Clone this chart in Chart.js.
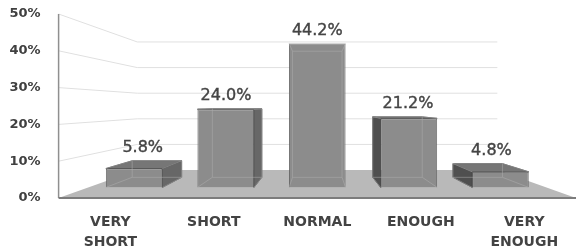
<!DOCTYPE html>
<html lang="en">
<head>
<meta charset="UTF-8">
<title>Sleep duration</title>
<script src="https://cdn.jsdelivr.net/npm/chart.js"></script>
<style>
  html, body { margin: 0; padding: 0; background: #fff; }
  #wrap { width: 576px; height: 252px; }
</style>
</head>
<body>
<div id="wrap"><canvas id="myChart"></canvas></div>
<script>
// data
const categories = [['VERY', 'SHORT'], 'SHORT', 'NORMAL', 'ENOUGH', ['VERY', 'ENOUGH']];
const shares = [5.8, 24.0, 44.2, 21.2, 4.8];
const yTicks = [0, 10, 20, 30, 40, 50];

// depth of the fake 3d scene (1 = front edge of floor)
const K_FRONT = 0.885;  // front face of bars
const K_BACK = 0.775;   // back face of bars
const K_WALL = 0.696;   // back wall

function proj(a, x, y, k) {
    const vx = (a.left + a.right) / 2, vy = (a.top + a.bottom) / 2;
    return [vx + (x - vx) * k, vy + (y - vy) * k];
}

function poly(ctx, pts, fill, stroke) {
    ctx.beginPath();
    ctx.moveTo(pts[0][0], pts[0][1]);
    for (let i = 1; i < pts.length; i++) ctx.lineTo(pts[i][0], pts[i][1]);
    ctx.closePath();
    if (fill) { ctx.fillStyle = fill; ctx.fill(); }
    if (stroke) { ctx.strokeStyle = stroke; ctx.lineWidth = 1; ctx.stroke(); }
}

function line(ctx, p, q, color, w) {
    ctx.beginPath();
    ctx.moveTo(p[0], p[1]);
    ctx.lineTo(q[0], q[1]);
    ctx.strokeStyle = color;
    ctx.lineWidth = w;
    ctx.stroke();
}

const box3d = {
    id: 'box3d',
    beforeDatasetsDraw(chart) {
        const ctx = chart.ctx, a = chart.chartArea, ys = chart.scales.y;
        const vx = (a.left + a.right) / 2, vy = (a.top + a.bottom) / 2;
        ctx.save();
        // floor
        poly(ctx, [[a.left, a.bottom], proj(a, a.left, a.bottom, K_WALL),
                   proj(a, a.right, a.bottom, K_WALL), [a.right, a.bottom]], '#b9b9b9');
        // side wall + back wall grid
        yTicks.forEach(v => {
            if (v === 0) return;
            const py = ys.getPixelForValue(v);
            const c = proj(a, a.left, py, K_WALL);
            const e = proj(a, a.right, py, K_WALL);
            line(ctx, [a.left, py], c, '#e0e0e0', 1);
            line(ctx, c, [e[0], c[1]], '#e0e0e0', 1);
        });
        line(ctx, [a.left, a.top], [a.left, a.bottom], '#8f8f8f', 1.5);
        line(ctx, [a.left, a.bottom], [a.right, a.bottom], '#7c7c7c', 2);

        // sides and tops of the bars
        chart.getDatasetMeta(0).data.forEach(el => {
            const p = el.getProps(['x', 'y', 'base', 'width'], true);
            const l = p.x - p.width / 2, r = p.x + p.width / 2, t = p.y, b = p.base;
            const F = (x, y) => proj(a, x, y, K_FRONT);
            const B = (x, y) => proj(a, x, y, K_BACK);
            if (p.x < vx - 1) {
                poly(ctx, [F(r, t), B(r, t), B(r, b), F(r, b)], '#676767', '#555');
            } else if (p.x > vx + 1) {
                poly(ctx, [F(l, t), B(l, t), B(l, b), F(l, b)], '#4f4f4f', '#444');
            }
            if (t > vy) {
                poly(ctx, [F(l, t), F(r, t), B(r, t), B(l, t)], '#767676', '#555');
            }
        });
        ctx.restore();

        // the library draws the front faces, pushed back to bar depth
        ctx.save();
        ctx.translate(vx, vy);
        ctx.scale(K_FRONT, K_FRONT);
        ctx.translate(-vx, -vy);
    },
    afterDatasetsDraw(chart) {
        const ctx = chart.ctx, a = chart.chartArea;
        ctx.restore();
        const vy = (a.top + a.bottom) / 2;
        ctx.save();
        chart.getDatasetMeta(0).data.forEach((el, i) => {
            const p = el.getProps(['x', 'y', 'base', 'width'], true);
            const l = p.x - p.width / 2, r = p.x + p.width / 2, t = p.y, b = p.base;
            const F = (x, y) => proj(a, x, y, K_FRONT);
            const B = (x, y) => proj(a, x, y, K_BACK);
            // faint hidden edges seen through the front face
            const ec = 'rgba(175,175,175,0.5)';
            poly(ctx, [B(l, t), B(r, t), B(r, b), B(l, b)], null, ec);
            line(ctx, F(l, b), B(l, b), ec, 1);
            line(ctx, F(r, b), B(r, b), ec, 1);
            line(ctx, F(l, t), B(l, t), ec, 1);
            line(ctx, F(r, t), B(r, t), ec, 1);

            // value label above the bar
            const ft = F(l, t)[1], bt = B(l, t)[1];
            const vis = Math.max(0, Math.min(1, (t - vy) / 75));
            const kl = K_FRONT - (K_FRONT - K_BACK) * vis * 0.4;
            const lx = proj(a, p.x, t, kl)[0];
            const ly = Math.min(ft, bt) - 13;
            const txt = shares[i].toFixed(1) + '%';
            ctx.font = '16px "DejaVu Sans"';
            ctx.fillStyle = '#444444';
            ctx.strokeStyle = '#444444';
            ctx.lineWidth = 0.4;
            ctx.textAlign = 'center';
            ctx.textBaseline = 'middle';
            ctx.fillText(txt, lx, ly);
            ctx.strokeText(txt, lx, ly);
        });
        ctx.restore();
    }
};

const data = {
    labels: categories,
    datasets: [{
        label: 'Share',
        data: shares,
        backgroundColor: '#8c8c8c',
        borderColor: '#5c5c5c',
        borderWidth: 1,
        barPercentage: 0.617,
        categoryPercentage: 1.0
    }]
};

const config = {
    type: 'bar',
    data: data,
    options: {
        responsive: true,
        maintainAspectRatio: false,
        animation: false,
        events: [],
        layout: { padding: { top: 14, left: 0, right: 0, bottom: 0 } },
        plugins: { legend: { display: false }, tooltip: { enabled: false } },
        scales: {
            x: {
                grid: { display: false, drawTicks: false },
                border: { display: false },
                afterFit: s => { s.height = 54; s.paddingLeft = 0; s.paddingRight = 0; },
                ticks: {
                    color: '#434343',
                    padding: 15,
                    maxRotation: 0,
                    autoSkip: false,
                    font: { family: 'DejaVu Sans', size: 14, weight: 'bold', lineHeight: 1.39 }
                }
            },
            y: {
                min: 0,
                max: 50,
                grid: { display: false, drawTicks: false },
                border: { display: false },
                afterFit: s => { s.width = 58.6; s.paddingTop = 0; s.paddingBottom = 0; },
                afterBuildTicks: s => { s.ticks = yTicks.map(v => ({ value: v })); },
                ticks: {
                    color: '#404040',
                    padding: 18,
                    font: { family: 'DejaVu Sans', size: 13, weight: 'bold' },
                    callback: v => v + '%'
                }
            }
        }
    },
    plugins: [box3d]
};

const myChart = new Chart(document.getElementById('myChart'), config);
</script>
</body>
</html>
